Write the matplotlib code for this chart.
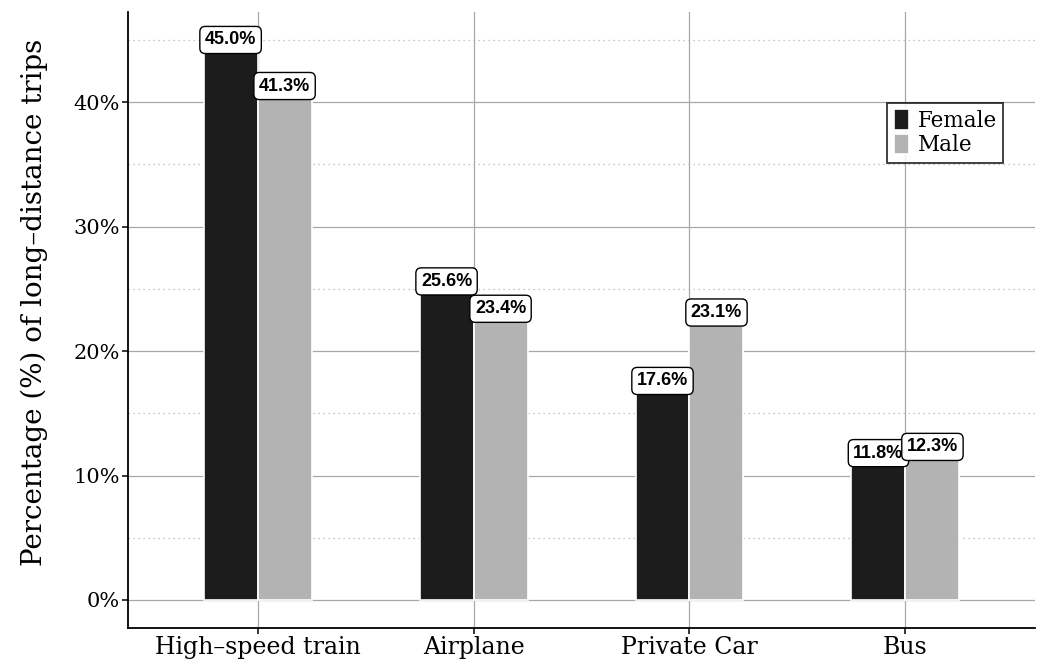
import matplotlib.pyplot as plt
import numpy as np
from matplotlib.ticker import FixedLocator, FuncFormatter

# data
modes = ["High–speed train", "Airplane", "Private Car", "Bus"]
female = [45.0, 25.6, 17.6, 11.8]
male = [41.3, 23.4, 23.1, 12.3]
groups = ["Female", "Male"]
colors = ["#1c1c1c", "#b3b3b3"]

SERIF = ["DejaVu Serif"]
LABEL_FONT = ["Liberation Sans", "DejaVu Sans"]

fig = plt.figure(figsize=(10.51, 6.62), dpi=100)
ax = fig.add_axes([0.1218, 0.0514, 0.8630, 0.9305])

x = np.arange(1, len(modes) + 1)
width = 0.25

for vals, off, col, name in zip([female, male], [-width / 2, width / 2], colors, groups):
    ax.bar(x + off, vals, width=width, color=col, edgecolor="white",
           linewidth=1.2, label=name, zorder=3)
    for xi, v in zip(x + off, vals):
        ax.text(xi, v, f"{v:.1f}%", ha="center", va="center", fontsize=13,
                fontweight="bold", family=LABEL_FONT, zorder=5,
                bbox=dict(boxstyle="round,pad=0.28,rounding_size=0.3",
                          fc="white", ec="black", lw=1.0))

ax.set_xlim(0.4, 4.6)
ax.set_ylim(-2.25, 47.25)

ax.yaxis.set_major_locator(FixedLocator([0, 10, 20, 30, 40]))
ax.yaxis.set_minor_locator(FixedLocator([5, 15, 25, 35, 45]))
ax.yaxis.set_major_formatter(FuncFormatter(lambda v, p: f"{v:.0f}%"))
ax.set_xticks(x)
ax.set_xticklabels(modes)

ax.grid(True, which="major", color="#a8a8a8", linewidth=0.9, zorder=0)
ax.grid(True, which="minor", axis="y", color="#b4b4b4", linewidth=0.9,
        linestyle=(0, (1, 3)), zorder=0)
ax.set_axisbelow(True)

for side in ["top", "right"]:
    ax.spines[side].set_visible(False)
for side in ["left", "bottom"]:
    ax.spines[side].set_linewidth(1.3)
    ax.spines[side].set_color("black")

ax.tick_params(axis="both", which="major", length=4, width=1.1, color="black",
               pad=2)
ax.tick_params(axis="y", labelsize=15)
ax.tick_params(axis="x", labelsize=17)
ax.tick_params(axis="y", which="minor", length=0)
for lab in ax.get_xticklabels() + ax.get_yticklabels():
    lab.set_family(SERIF)
    lab.set_color("black")

ax.set_ylabel("Percentage (%) of long–distance trips", fontsize=20,
              family=SERIF, va="center")
ax.yaxis.set_label_coords(-0.103, 0.529)

leg = ax.legend(loc="upper right", bbox_to_anchor=(0.965, 0.853),
                prop={"family": SERIF, "size": 15.5}, frameon=True,
                fancybox=False, edgecolor="black", handlelength=0.7,
                handleheight=1.1, handletextpad=0.4, labelspacing=0.1,
                borderpad=0.3, borderaxespad=0)
leg.get_frame().set_linewidth(1.3)

fig.savefig("out.png", dpi=100)
